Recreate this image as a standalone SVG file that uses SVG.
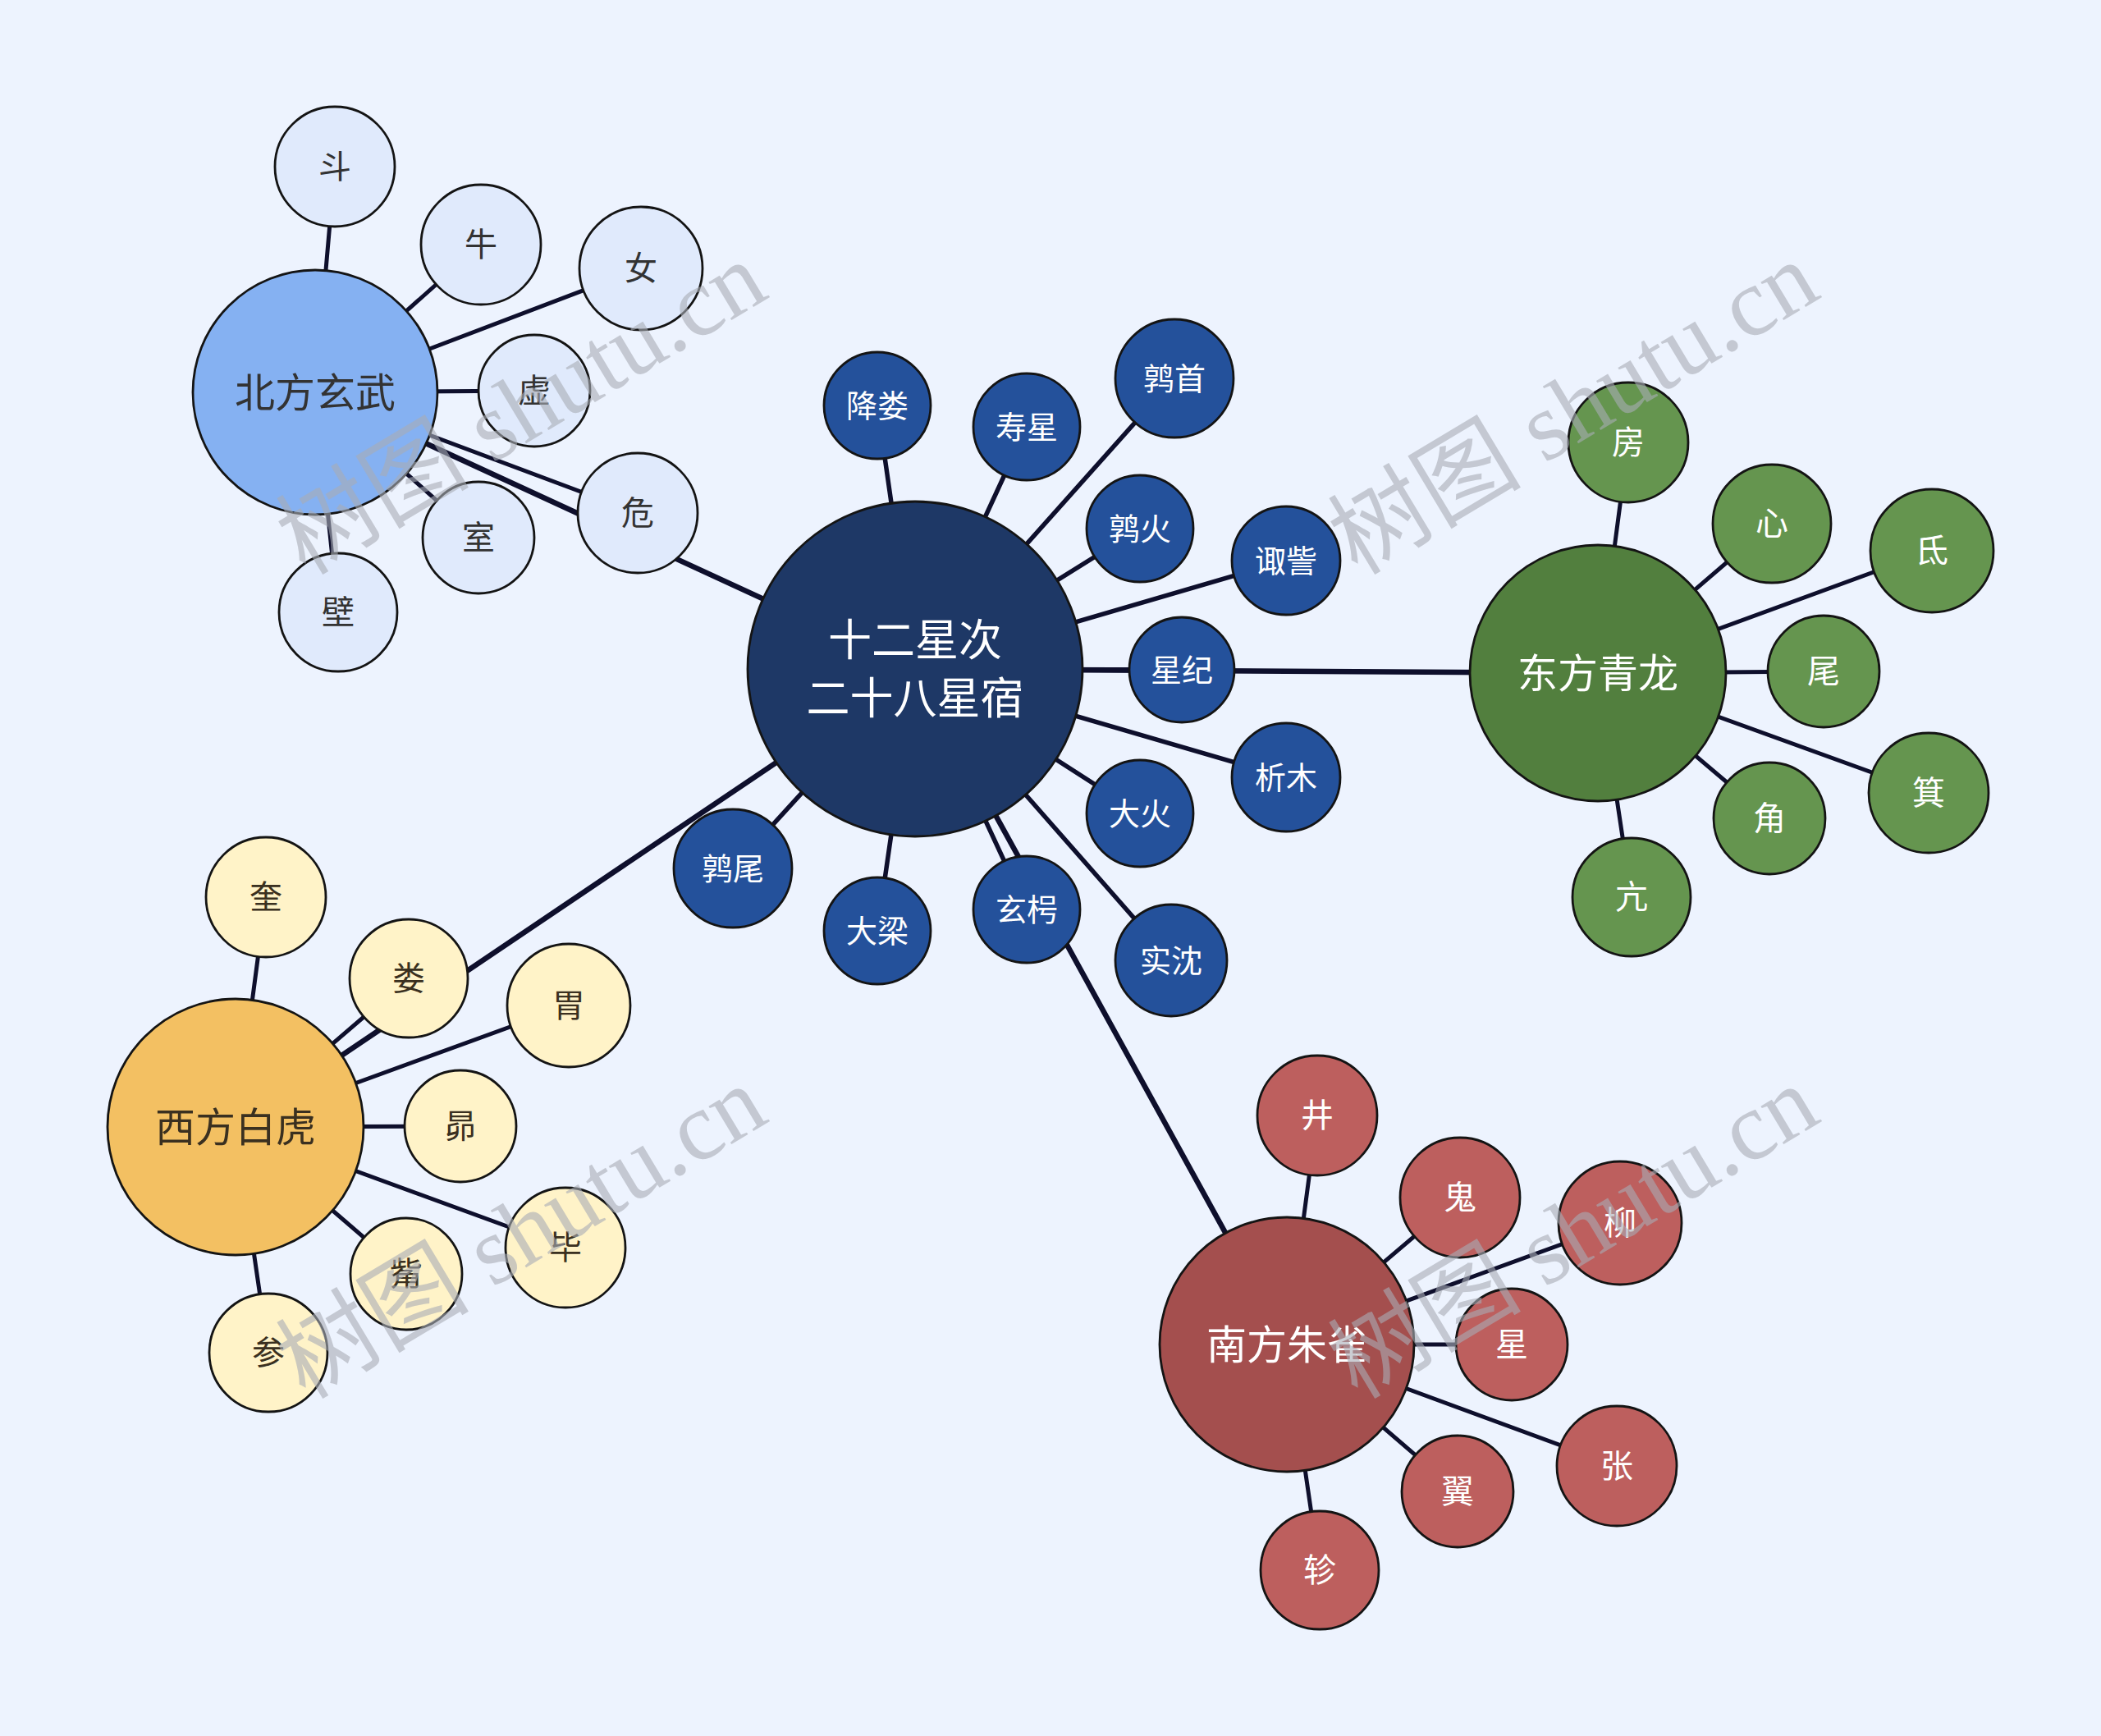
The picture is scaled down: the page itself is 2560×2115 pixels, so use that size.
<svg xmlns="http://www.w3.org/2000/svg" width="2560" height="2115" viewBox="0 0 2560 2115">
<style>
.ln{stroke:#0e0f2c;stroke-linecap:round;fill:none}
.main{stroke-width:6.5}
.br{stroke-width:5.5}
.lf{stroke-width:5}
.nd{stroke:#141414;stroke-width:2.8}
.t{font-family:"Noto Sans CJK SC","Noto Sans",sans-serif;text-anchor:middle}
.hub{fill:#1e3866}
.st{fill:#24519b}
.nh{fill:#85b1f2}.nl{fill:#e0eafc}
.eh{fill:#527f3e}.el{fill:#65954f}
.wh{fill:#f3c062}.wl{fill:#fff3c8}
.sh{fill:#a44f4e}.sl{fill:#bd5f5e}
.w{fill:#ffffff}.d{fill:#333333}.dw{fill:#3a3020}
.s40{font-size:40px}.s38{font-size:38px}.s48{font-size:49px}.s52{font-size:53px}
.wm{font-family:"Liberation Serif","Noto Sans CJK SC",serif;font-size:118px;fill:#a9adb6;opacity:0.6}
</style>
<rect x="0" y="0" width="2560" height="2115" fill="#edf3fe"/>
<g id="connectors">
<line class="ln main" x1="1115" y1="815" x2="384" y2="478"/>
<line class="ln main" x1="1115" y1="815" x2="1947" y2="820"/>
<line class="ln main" x1="1115" y1="815" x2="287" y2="1373"/>
<line class="ln main" x1="1115" y1="815" x2="1568" y2="1638"/>
<line class="ln br" x1="1115" y1="815" x2="1069" y2="494"/>
<line class="ln br" x1="1115" y1="815" x2="1251" y2="520"/>
<line class="ln br" x1="1115" y1="815" x2="1431" y2="461"/>
<line class="ln br" x1="1115" y1="815" x2="1389" y2="644"/>
<line class="ln br" x1="1115" y1="815" x2="1567" y2="683"/>
<line class="ln br" x1="1115" y1="815" x2="1440" y2="816"/>
<line class="ln br" x1="1115" y1="815" x2="1567" y2="947"/>
<line class="ln br" x1="1115" y1="815" x2="1389" y2="991"/>
<line class="ln br" x1="1115" y1="815" x2="1427" y2="1170"/>
<line class="ln br" x1="1115" y1="815" x2="1251" y2="1108"/>
<line class="ln br" x1="1115" y1="815" x2="1069" y2="1134"/>
<line class="ln br" x1="1115" y1="815" x2="893" y2="1058"/>
<line class="ln lf" x1="384" y1="478" x2="408" y2="203"/>
<line class="ln lf" x1="384" y1="478" x2="586" y2="298"/>
<line class="ln lf" x1="384" y1="478" x2="781" y2="327"/>
<line class="ln lf" x1="384" y1="478" x2="651" y2="476"/>
<line class="ln lf" x1="384" y1="478" x2="777" y2="625"/>
<line class="ln lf" x1="384" y1="478" x2="583" y2="655"/>
<line class="ln lf" x1="384" y1="478" x2="412" y2="746"/>
<line class="ln lf" x1="1947" y1="820" x2="1984" y2="539"/>
<line class="ln lf" x1="1947" y1="820" x2="2159" y2="638"/>
<line class="ln lf" x1="1947" y1="820" x2="2354" y2="671"/>
<line class="ln lf" x1="1947" y1="820" x2="2222" y2="818"/>
<line class="ln lf" x1="1947" y1="820" x2="2350" y2="966"/>
<line class="ln lf" x1="1947" y1="820" x2="2156" y2="997"/>
<line class="ln lf" x1="1947" y1="820" x2="1988" y2="1093"/>
<line class="ln lf" x1="287" y1="1373" x2="324" y2="1093"/>
<line class="ln lf" x1="287" y1="1373" x2="498" y2="1192"/>
<line class="ln lf" x1="287" y1="1373" x2="693" y2="1225"/>
<line class="ln lf" x1="287" y1="1373" x2="561" y2="1372"/>
<line class="ln lf" x1="287" y1="1373" x2="689" y2="1520"/>
<line class="ln lf" x1="287" y1="1373" x2="495" y2="1552"/>
<line class="ln lf" x1="287" y1="1373" x2="327" y2="1648"/>
<line class="ln lf" x1="1568" y1="1638" x2="1605" y2="1359"/>
<line class="ln lf" x1="1568" y1="1638" x2="1779" y2="1459"/>
<line class="ln lf" x1="1568" y1="1638" x2="1974" y2="1490"/>
<line class="ln lf" x1="1568" y1="1638" x2="1842" y2="1638"/>
<line class="ln lf" x1="1568" y1="1638" x2="1970" y2="1786"/>
<line class="ln lf" x1="1568" y1="1638" x2="1776" y2="1817"/>
<line class="ln lf" x1="1568" y1="1638" x2="1608" y2="1913"/>
</g>
<g id="hub"><circle class="nd hub" cx="1115" cy="815" r="204"/><text class="t w s52" x="1115" y="799">十二星次</text><text class="t w s52" x="1115" y="870">二十八星宿</text></g>
<g id="jianglou"><circle class="nd st" cx="1069" cy="494" r="65"/><text class="t w s38" x="1069" y="508">降娄</text></g>
<g id="shouxing"><circle class="nd st" cx="1251" cy="520" r="65"/><text class="t w s38" x="1251" y="534">寿星</text></g>
<g id="chunshou"><circle class="nd st" cx="1431" cy="461" r="72"/><text class="t w s38" x="1431" y="475">鹑首</text></g>
<g id="chunhuo"><circle class="nd st" cx="1389" cy="644" r="65"/><text class="t w s38" x="1389" y="658">鹑火</text></g>
<g id="zouzi"><circle class="nd st" cx="1567" cy="683" r="66"/><text class="t w s38" x="1567" y="697">诹訾</text></g>
<g id="xingji"><circle class="nd st" cx="1440" cy="816" r="64"/><text class="t w s38" x="1440" y="830">星纪</text></g>
<g id="ximu"><circle class="nd st" cx="1567" cy="947" r="66"/><text class="t w s38" x="1567" y="961">析木</text></g>
<g id="dahuo"><circle class="nd st" cx="1389" cy="991" r="65"/><text class="t w s38" x="1389" y="1005">大火</text></g>
<g id="shishen"><circle class="nd st" cx="1427" cy="1170" r="68"/><text class="t w s38" x="1427" y="1184">实沈</text></g>
<g id="xuanxiao"><circle class="nd st" cx="1251" cy="1108" r="65"/><text class="t w s38" x="1251" y="1122">玄枵</text></g>
<g id="daliang"><circle class="nd st" cx="1069" cy="1134" r="65"/><text class="t w s38" x="1069" y="1148">大梁</text></g>
<g id="chunwei"><circle class="nd st" cx="893" cy="1058" r="72"/><text class="t w s38" x="893" y="1072">鹑尾</text></g>
<g id="north"><circle class="nd nh" cx="384" cy="478" r="149"/><text class="t d s48" x="384" y="496">北方玄武</text></g>
<g id="dou"><circle class="nd nl" cx="408" cy="203" r="73"/><text class="t d s40" x="408" y="217">斗</text></g>
<g id="niu"><circle class="nd nl" cx="586" cy="298" r="73"/><text class="t d s40" x="586" y="312">牛</text></g>
<g id="nv"><circle class="nd nl" cx="781" cy="327" r="75"/><text class="t d s40" x="781" y="341">女</text></g>
<g id="xu"><circle class="nd nl" cx="651" cy="476" r="68"/><text class="t d s40" x="651" y="490">虚</text></g>
<g id="wei"><circle class="nd nl" cx="777" cy="625" r="73"/><text class="t d s40" x="777" y="639">危</text></g>
<g id="shi"><circle class="nd nl" cx="583" cy="655" r="68"/><text class="t d s40" x="583" y="669">室</text></g>
<g id="bi"><circle class="nd nl" cx="412" cy="746" r="72"/><text class="t d s40" x="412" y="760">壁</text></g>
<g id="east"><circle class="nd eh" cx="1947" cy="820" r="156"/><text class="t w s48" x="1947" y="838">东方青龙</text></g>
<g id="fang"><circle class="nd el" cx="1984" cy="539" r="73"/><text class="t w s40" x="1984" y="553">房</text></g>
<g id="xin"><circle class="nd el" cx="2159" cy="638" r="72"/><text class="t w s40" x="2159" y="652">心</text></g>
<g id="di"><circle class="nd el" cx="2354" cy="671" r="75"/><text class="t w s40" x="2354" y="685">氐</text></g>
<g id="weiE"><circle class="nd el" cx="2222" cy="818" r="68"/><text class="t w s40" x="2222" y="832">尾</text></g>
<g id="ji"><circle class="nd el" cx="2350" cy="966" r="73"/><text class="t w s40" x="2350" y="980">箕</text></g>
<g id="jiao"><circle class="nd el" cx="2156" cy="997" r="68"/><text class="t w s40" x="2156" y="1011">角</text></g>
<g id="kang"><circle class="nd el" cx="1988" cy="1093" r="72"/><text class="t w s40" x="1988" y="1107">亢</text></g>
<g id="west"><circle class="nd wh" cx="287" cy="1373" r="156"/><text class="t dw s48" x="287" y="1391">西方白虎</text></g>
<g id="kui"><circle class="nd wl" cx="324" cy="1093" r="73"/><text class="t dw s40" x="324" y="1107">奎</text></g>
<g id="lou"><circle class="nd wl" cx="498" cy="1192" r="72"/><text class="t dw s40" x="498" y="1206">娄</text></g>
<g id="weiW"><circle class="nd wl" cx="693" cy="1225" r="75"/><text class="t dw s40" x="693" y="1239">胃</text></g>
<g id="mao"><circle class="nd wl" cx="561" cy="1372" r="68"/><text class="t dw s40" x="561" y="1386">昴</text></g>
<g id="biW"><circle class="nd wl" cx="689" cy="1520" r="73"/><text class="t dw s40" x="689" y="1534">毕</text></g>
<g id="zi"><circle class="nd wl" cx="495" cy="1552" r="68"/><text class="t dw s40" x="495" y="1566">觜</text></g>
<g id="shen"><circle class="nd wl" cx="327" cy="1648" r="72"/><text class="t dw s40" x="327" y="1662">参</text></g>
<g id="south"><circle class="nd sh" cx="1568" cy="1638" r="155"/><text class="t w s48" x="1568" y="1656">南方朱雀</text></g>
<g id="jing"><circle class="nd sl" cx="1605" cy="1359" r="73"/><text class="t w s40" x="1605" y="1373">井</text></g>
<g id="gui"><circle class="nd sl" cx="1779" cy="1459" r="73"/><text class="t w s40" x="1779" y="1473">鬼</text></g>
<g id="liu"><circle class="nd sl" cx="1974" cy="1490" r="75"/><text class="t w s40" x="1974" y="1504">柳</text></g>
<g id="xingS"><circle class="nd sl" cx="1842" cy="1638" r="68"/><text class="t w s40" x="1842" y="1652">星</text></g>
<g id="zhang"><circle class="nd sl" cx="1970" cy="1786" r="73"/><text class="t w s40" x="1970" y="1800">张</text></g>
<g id="yi"><circle class="nd sl" cx="1776" cy="1817" r="68"/><text class="t w s40" x="1776" y="1831">翼</text></g>
<g id="zhen"><circle class="nd sl" cx="1608" cy="1913" r="72"/><text class="t w s40" x="1608" y="1927">轸</text></g>
<g id="watermark">
<text class="wm" x="372" y="702" transform="rotate(-31 372 702)">树图 shutu.cn</text>
<text class="wm" x="1654" y="702" transform="rotate(-31 1654 702)">树图 shutu.cn</text>
<text class="wm" x="372" y="1706" transform="rotate(-31 372 1706)">树图 shutu.cn</text>
<text class="wm" x="1654" y="1706" transform="rotate(-31 1654 1706)">树图 shutu.cn</text>
</g>
</svg>
